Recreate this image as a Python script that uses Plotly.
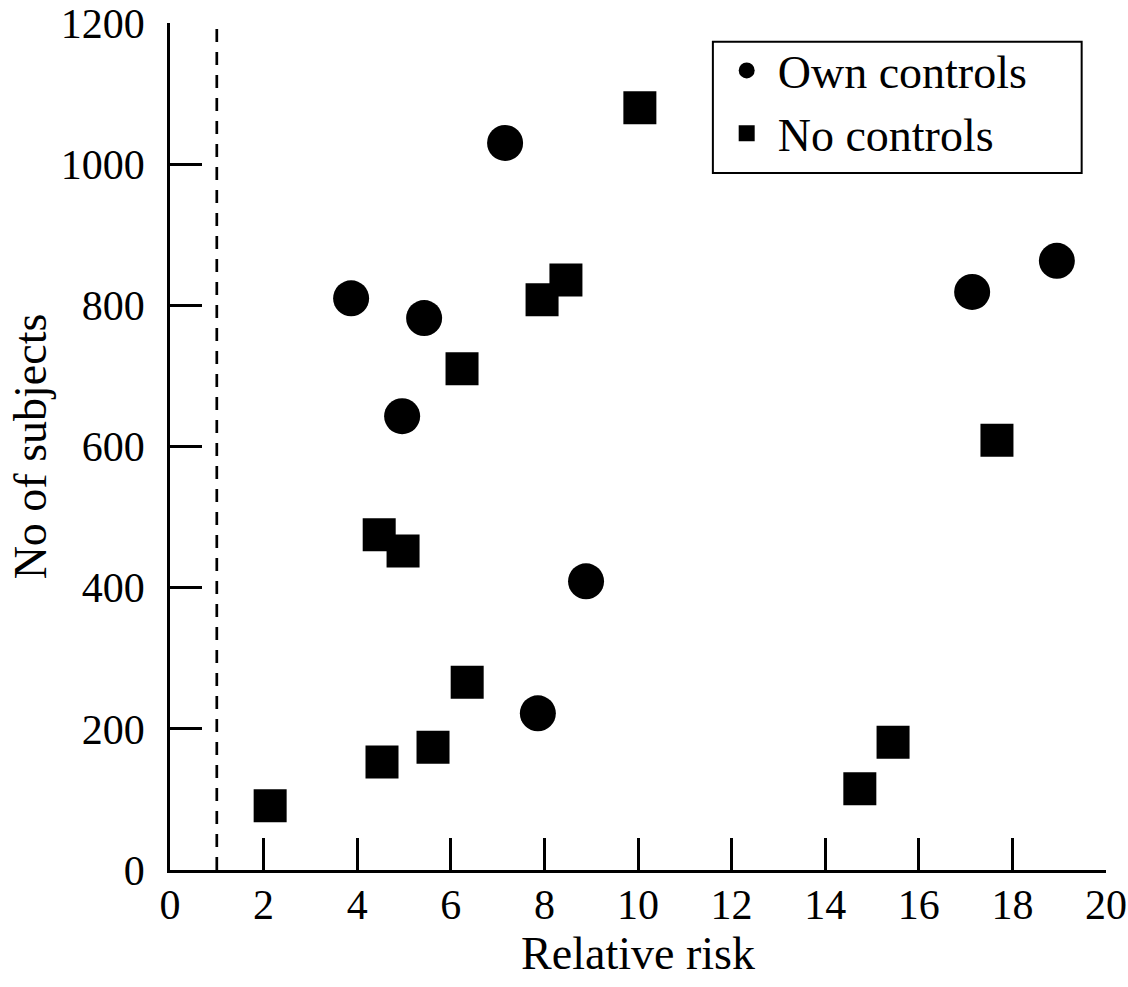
import plotly.graph_objects as go

# Data
own_x = [3.87, 5.43, 4.96, 7.16, 8.89, 7.86, 17.14, 18.95]
own_y = [810, 782, 643, 1030, 409, 222, 819, 863]

no_x = [10.04, 7.95, 8.46, 6.24, 4.47, 4.98, 6.35, 4.53, 5.62, 2.14, 14.74, 15.45, 17.67]
no_y = [1080, 808, 836, 710, 475, 452, 266, 153, 174, 91, 115, 181, 609]

x_ticks = [0, 2, 4, 6, 8, 10, 12, 14, 16, 18, 20]
y_ticks = [0, 200, 400, 600, 800, 1000, 1200]
ref_line_x = 1

FONT = "Liberation Serif"

fig = go.Figure()
fig.add_trace(go.Scatter(
    x=own_x, y=own_y, mode="markers", name="Own controls",
    marker=dict(symbol="circle", size=36, color="black", line=dict(width=0)),
))
fig.add_trace(go.Scatter(
    x=no_x, y=no_y, mode="markers", name="No controls",
    marker=dict(symbol="square", size=33, color="black", line=dict(width=0)),
))

fig.add_shape(type="line", xref="x", yref="y",
              x0=ref_line_x, x1=ref_line_x, y0=0, y1=1195,
              line=dict(color="black", width=2.7, dash="13px,10px"))

# legend frame
fig.add_shape(type="rect", xref="paper", yref="paper",
              x0=0.580, x1=0.974, y0=0.823, y1=0.978,
              line=dict(color="black", width=2), fillcolor="white", layer="above")

fig.update_layout(
    width=1128, height=987,
    margin=dict(l=170, r=22, t=23, b=117, autoexpand=False),
    paper_bgcolor="white", plot_bgcolor="white",
    font=dict(family=FONT, color="black", size=42),
    showlegend=True,
    legend=dict(
        x=0.583, y=0.987, xanchor="left", yanchor="top",
        borderwidth=0, bgcolor="rgba(0,0,0,0)",
        font=dict(family=FONT, size=46, color="black"),
        itemsizing="trace", itemwidth=52,
    ),
    xaxis=dict(
        range=[0, 20], tickvals=x_ticks, ticktext=[str(v) for v in x_ticks],
        showgrid=False, zeroline=False, automargin=True,
        showline=True, linecolor="black", linewidth=2.5,
        ticks="inside", ticklen=32, tickwidth=2.5, tickcolor="black",
        tickfont=dict(family=FONT, size=42), ticklabelstandoff=-4,
        title=dict(text="Relative risk", font=dict(family=FONT, size=46), standoff=8),
    ),
    yaxis=dict(
        range=[0, 1200], tickvals=y_ticks, ticktext=[str(v) for v in y_ticks],
        showgrid=False, zeroline=False, automargin=True,
        showline=True, linecolor="black", linewidth=2.5,
        ticks="inside", ticklen=32, tickwidth=2.5, tickcolor="black",
        tickfont=dict(family=FONT, size=42), ticklabelstandoff=14,
        title=dict(text="No of subjects", font=dict(family=FONT, size=46), standoff=0),
    ),
)

fig.write_html("out.html")
